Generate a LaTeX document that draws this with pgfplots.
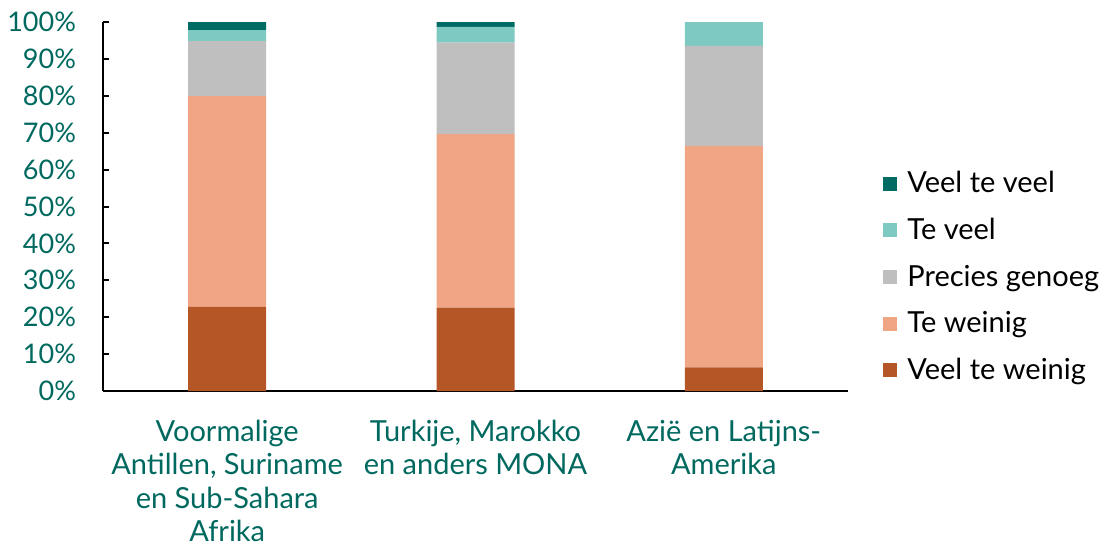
\documentclass[border=0pt]{standalone}
\usepackage{fontspec}
\setmainfont{Lato}
\usepackage{pgfplots}
\pgfplotsset{compat=1.18}

\definecolor{vtv}{HTML}{006B63}
\definecolor{tv}{HTML}{7FC9C3}
\definecolor{pg}{HTML}{BFBFBF}
\definecolor{tw}{HTML}{F0A584}
\definecolor{vtw}{HTML}{B55627}
\definecolor{lbl}{HTML}{00695F}

\begin{document}
\begin{tikzpicture}
\begin{axis}[
  scale only axis,
  width=372.5pt, height=184.5pt,
  ybar stacked, bar width=39pt,
  xmin=-0.5, xmax=2.5, ymin=0, ymax=100,
  axis x line*=bottom, axis y line*=left,
  axis line style={line width=1pt, -},
  xtick=data, major x tick style={draw=none},
  xticklabels={{Voormalige\\Antillen, Suriname\\en Sub-Sahara\\Afrika},{Turkije, Marokko\\en anders MONA},{Azië en Latijns-\\Amerika}},
  xticklabel style={align=center, text=lbl, font=\fontsize{14.5}{16.75}\selectfont, yshift=-11pt},
  ytick={0,10,...,100},
  yticklabel={\pgfmathprintnumber{\tick}\%},
  /pgf/number format/assume math mode=true,
  yticklabel style={text=lbl, font=\fontsize{13.5}{16}\selectfont, xshift=-10pt},
  tick align=inside, major tick length=3pt,
  major y tick style={line width=1pt, black},
  legend style={at={(rel axis cs:1.047,0.309)}, anchor=west, draw=none,
    font=\fontsize{14.5}{16}\selectfont, row sep=7.2pt, inner sep=0pt},
  legend cell align=left,
  reverse legend,
  legend image code/.code={\fill[#1] (0pt,-3.5pt) rectangle (7pt,3.5pt); \path (10pt,0pt);},
]
\addplot[fill=vtw, draw=none] coordinates {(0,22.8) (1,22.6) (2,6.4)};
\addplot[fill=tw, draw=none] coordinates {(0,57.1) (1,47.0) (2,60.0)};
\addplot[fill=pg, draw=none] coordinates {(0,14.9) (1,24.8) (2,27.1)};
\addplot[fill=tv, draw=none] coordinates {(0,3.0) (1,4.3) (2,6.5)};
\addplot[fill=vtv, draw=none] coordinates {(0,2.2) (1,1.3) (2,0)};
\legend{Veel te weinig,Te weinig,Precies genoeg,Te veel,Veel te veel}
\end{axis}
\path (current axis.south west) ++(-51.5pt,-76.5pt);
\path (current axis.south west) ++(502pt,195.5pt);
\end{tikzpicture}
\end{document}
